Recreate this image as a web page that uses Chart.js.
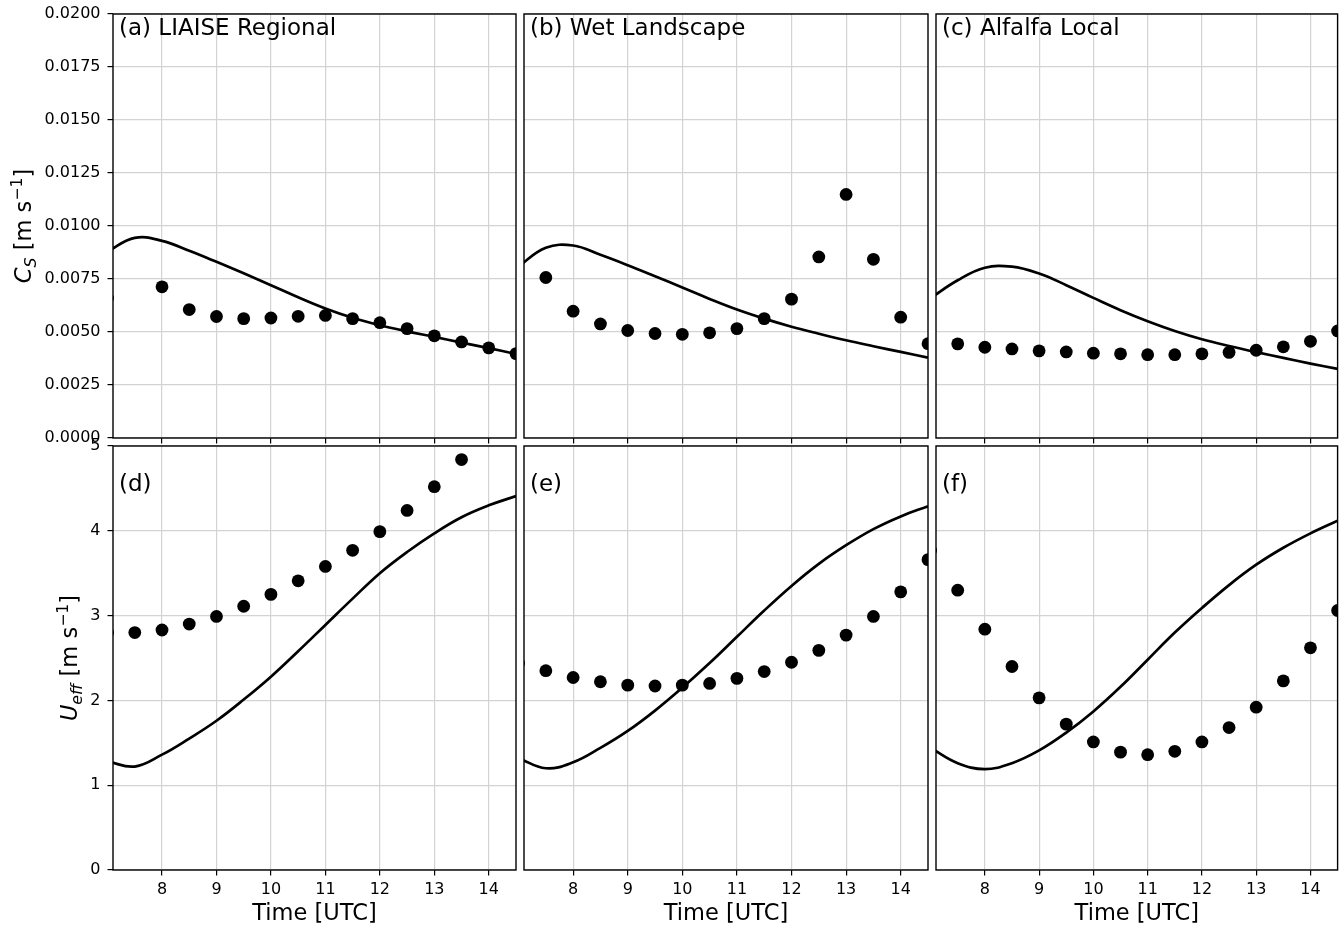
<!DOCTYPE html>
<html><head><meta charset="utf-8">
<script src="https://cdn.jsdelivr.net/npm/chart.js@4/dist/chart.umd.min.js"></script>
<style>
html,body{margin:0;padding:0;background:#fff;}
#wrap{position:relative;width:1344px;height:929px;background:#fff;}
#wrap canvas{position:absolute;left:0;top:0;}
</style></head><body><div id="wrap"></div>
<script>
// ---- data ----
const obsTimes = [7.0, 7.5, 8.0, 8.5, 9.0, 9.5, 10.0, 10.5, 11.0, 11.5, 12.0, 12.5, 13.0, 13.5, 14.0, 14.5];
const modelTimes = [7.0, 7.5, 8.0, 8.5, 9.0, 9.5, 10.0, 10.5, 11.0, 11.5, 12.0, 12.5, 13.0, 13.5, 14.0, 14.5];
const xTicks = [8, 9, 10, 11, 12, 13, 14];
const csTicks = [0, 0.0025, 0.005, 0.0075, 0.01, 0.0125, 0.015, 0.0175, 0.02];
const ueffTicks = [0, 1, 2, 3, 4, 5];
const panelLabels = ['(a) LIAISE Regional', '(b) Wet Landscape', '(c) Alfalfa Local', '(d)', '(e)', '(f)'];

const csObsRegional  = [0.0066, null, 0.00713, 0.00606, 0.00573, 0.00563, 0.00566, 0.00574, 0.00578, 0.00563, 0.00544, 0.00516, 0.00482, 0.00453, 0.00425, 0.00398];
const csModelRegional = [0.0088, 0.00944, 0.0093, 0.00883, 0.00831, 0.00777, 0.00721, 0.00664, 0.00611, 0.00567, 0.00532, 0.00503, 0.00477, 0.0045, 0.00424, 0.00396];
const csObsWet  = [null, 0.00757, 0.00598, 0.00538, 0.00507, 0.00493, 0.00489, 0.00496, 0.00516, 0.00563, 0.00655, 0.00854, 0.01149, 0.00843, 0.0057, 0.00445];
const csModelWet = [0.0081, 0.00897, 0.00908, 0.00864, 0.00815, 0.00763, 0.0071, 0.00656, 0.00606, 0.00563, 0.00525, 0.00492, 0.00461, 0.00433, 0.00406, 0.00379];
const csObsAlfalfa  = [null, 0.00444, 0.00428, 0.0042, 0.00411, 0.00406, 0.004, 0.00397, 0.00393, 0.00393, 0.00397, 0.00404, 0.00414, 0.0043, 0.00456, 0.00505];
const csModelAlfalfa = [0.0066, 0.00744, 0.00803, 0.00808, 0.00776, 0.00721, 0.00661, 0.00603, 0.00551, 0.00505, 0.00466, 0.00434, 0.00405, 0.00378, 0.00351, 0.00326];

const ueffObsRegional  = [2.80, 2.80, 2.83, 2.90, 2.99, 3.11, 3.25, 3.41, 3.58, 3.77, 3.99, 4.24, 4.52, 4.84, null, null];
const ueffModelRegional = [1.28, 1.22, 1.36, 1.55, 1.76, 2.01, 2.28, 2.58, 2.89, 3.20, 3.50, 3.75, 3.97, 4.16, 4.30, 4.41];
const ueffObsWet  = [2.44, 2.35, 2.27, 2.22, 2.18, 2.17, 2.18, 2.20, 2.26, 2.34, 2.45, 2.59, 2.77, 2.99, 3.28, 3.66];
const ueffModelWet = [1.32, 1.20, 1.27, 1.44, 1.64, 1.88, 2.15, 2.44, 2.75, 3.06, 3.35, 3.61, 3.83, 4.02, 4.17, 4.29];
const ueffObsAlfalfa  = [3.77, 3.30, 2.84, 2.40, 2.03, 1.72, 1.51, 1.39, 1.36, 1.40, 1.51, 1.68, 1.92, 2.23, 2.62, 3.06];
const ueffModelAlfalfa = [1.44, 1.26, 1.19, 1.26, 1.41, 1.62, 1.87, 2.16, 2.48, 2.80, 3.09, 3.36, 3.60, 3.80, 3.97, 4.12];

// ---- layout ----
const W = 1344, H = 929;
const xMin = 7.1, xMax = 14.5;
const colLeft = [113, 524, 936], colRight = [516, 928, 1340];
const rowTop = [14, 446], rowBottom = [438, 870];
const FONT = '"DejaVu Sans", "Liberation Sans", sans-serif';
const GRID = '#d3d3d3';

function drawMath(ctx, segs, cx, cy, base) {
  ctx.save();
  ctx.translate(cx, cy);
  ctx.rotate(-Math.PI / 2);
  ctx.fillStyle = '#000';
  ctx.textBaseline = 'alphabetic';
  ctx.textAlign = 'left';
  const f = s => (s[1] ? 'italic ' : '') + (base * s[2]) + 'px ' + FONT;
  let total = 0;
  const widths = segs.map(s => { ctx.font = f(s); const w = ctx.measureText(s[0]).width; total += w; return w; });
  let x = -total / 2;
  segs.forEach((s, k) => { ctx.font = f(s); ctx.fillText(s[0], x, s[3] * base); x += widths[k]; });
  ctx.restore();
}

const ytitleCs = [['C', true, 1, 0], ['S', true, 0.7, 0.2], [' [m s', false, 1, 0], ['\u22121', false, 0.7, -0.42], [']', false, 1, 0]];
const ytitleU = [['U', true, 1, 0], ['eff', true, 0.7, 0.2], [' [m s', false, 1, 0], ['\u22121', false, 0.7, -0.42], [']', false, 1, 0]];

function zeroPad(s) { s.paddingTop = 0; s.paddingBottom = 0; s.paddingLeft = 0; s.paddingRight = 0; }

function makePanel(row, col, label, obs, model, yMax, yTicks, yFmt) {
  const wrap = document.getElementById('wrap');
  const canvas = document.createElement('canvas');
  canvas.width = W; canvas.height = H;
  canvas.style.width = W + 'px'; canvas.style.height = H + 'px';
  wrap.appendChild(canvas);
  const L = colLeft[col], R = colRight[col], T = rowTop[row], B = rowBottom[row];
  const firstCol = col === 0, bottomRow = row === 1;
  const yw = firstCol ? L : 10;
  const obsPts = obsTimes.map((x, k) => ({x, y: obs[k]})).filter(p => p.y !== null);
  const modPts = modelTimes.map((x, k) => ({x, y: model[k]}));
  const deco = {
    id: 'deco' + row + col,
    afterDatasetsDraw(chart) {
      const ctx = chart.ctx, a = chart.chartArea;
      ctx.save();
      ctx.strokeStyle = '#000'; ctx.lineWidth = 1.4;
      ctx.strokeRect(a.left, a.top, a.right - a.left, a.bottom - a.top);
      ctx.fillStyle = '#000';
      ctx.font = '23px ' + FONT;
      ctx.textBaseline = 'alphabetic'; ctx.textAlign = 'left';
      ctx.fillText(label, a.left + 6, a.top + (bottomRow ? 45 : 21));
      ctx.restore();
      if (firstCol) {
        if (bottomRow) drawMath(ctx, ytitleU, 77, (a.top + a.bottom) / 2, 22.5);
        else drawMath(ctx, ytitleCs, 31, (a.top + a.bottom) / 2, 22.5);
      }
    }
  };
  new Chart(canvas, {
    type: 'scatter',
    data: { datasets: [
      { data: modPts, showLine: true, borderColor: '#000', borderWidth: 2.7, pointRadius: 0, tension: 0.4, fill: false, clip: 0 },
      { data: obsPts, showLine: false, backgroundColor: '#000', borderColor: '#000', borderWidth: 0, pointRadius: 6.4, clip: 0 }
    ]},
    options: {
      responsive: false, animation: false, events: [], devicePixelRatio: 1,
      layout: { padding: { left: L - yw, right: W - R, top: T, bottom: 0 } },
      plugins: { legend: { display: false }, tooltip: { enabled: false } },
      scales: {
        x: {
          type: 'linear', min: xMin, max: xMax,
          afterBuildTicks: s => { s.ticks = xTicks.map(v => ({ value: v })); },
          afterFit: s => { s.height = H - B; zeroPad(s); },
          grid: { color: GRID, lineWidth: 1.2, drawTicks: true, tickLength: 5.5, tickColor: '#000', tickWidth: 1.2 },
          border: { display: false },
          ticks: { display: bottomRow, autoSkip: false, maxRotation: 0, color: '#000', padding: 5, font: { family: FONT, size: 16 } },
          title: { display: bottomRow, text: 'Time [UTC]', color: '#000', font: { family: FONT, size: 22.5 }, padding: { top: 4, bottom: 1 } }
        },
        y: {
          type: 'linear', min: 0, max: yMax,
          afterBuildTicks: s => { s.ticks = yTicks.map(v => ({ value: v })); },
          afterFit: s => { s.width = yw; zeroPad(s); },
          grid: { color: GRID, lineWidth: 1.2, drawTicks: firstCol, tickLength: 5.5, tickColor: '#000', tickWidth: 1.2 },
          border: { display: false },
          ticks: { display: firstCol, color: '#000', padding: 7, font: { family: FONT, size: 16 }, callback: v => yFmt(v) }
        }
      }
    },
    plugins: [deco]
  });
}

const fmtCs = v => v.toFixed(4);
const fmtU = v => String(v);
makePanel(0, 0, panelLabels[0], csObsRegional, csModelRegional, 0.02, csTicks, fmtCs);
makePanel(0, 1, panelLabels[1], csObsWet, csModelWet, 0.02, csTicks, fmtCs);
makePanel(0, 2, panelLabels[2], csObsAlfalfa, csModelAlfalfa, 0.02, csTicks, fmtCs);
makePanel(1, 0, panelLabels[3], ueffObsRegional, ueffModelRegional, 5, ueffTicks, fmtU);
makePanel(1, 1, panelLabels[4], ueffObsWet, ueffModelWet, 5, ueffTicks, fmtU);
makePanel(1, 2, panelLabels[5], ueffObsAlfalfa, ueffModelAlfalfa, 5, ueffTicks, fmtU);
</script>
</body></html>
